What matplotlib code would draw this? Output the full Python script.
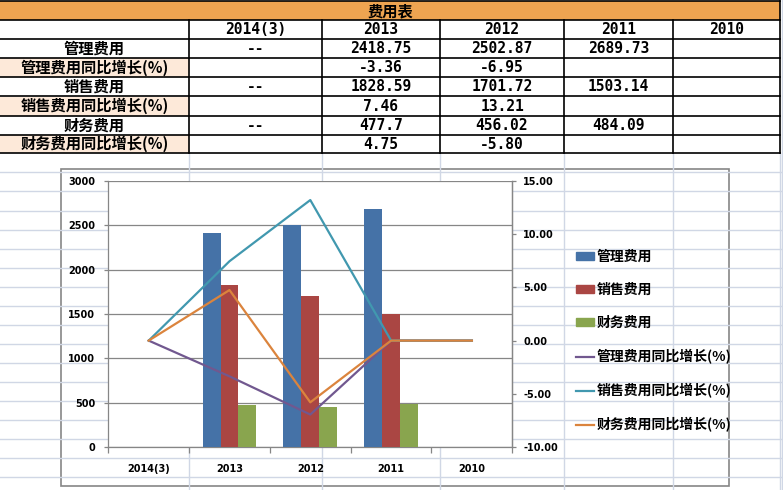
import numpy as np
import matplotlib
matplotlib.use('Agg')
import matplotlib.pyplot as plt
from matplotlib.patches import Rectangle, Patch
from matplotlib.lines import Line2D

# table / chart data
categories = ['2014(3)', '2013', '2012', '2011', '2010']
admin = [0, 2418.75, 2502.87, 2689.73, 0]
sales = [0, 1828.59, 1701.72, 1503.14, 0]
finance = [0, 477.7, 456.02, 484.09, 0]
admin_growth = [0, -3.36, -6.95, 0, 0]
sales_growth = [0, 7.46, 13.21, 0, 0]
finance_growth = [0, 4.75, -5.80, 0, 0]

table_title = '费用表'
row_labels = ['管理费用', '管理费用同比增长(%)', '销售费用', '销售费用同比增长(%)',
              '财务费用', '财务费用同比增长(%)']
table_cells = [
    ['--', '2418.75', '2502.87', '2689.73', ''],
    ['', '-3.36', '-6.95', '', ''],
    ['--', '1828.59', '1701.72', '1503.14', ''],
    ['', '7.46', '13.21', '', ''],
    ['--', '477.7', '456.02', '484.09', ''],
    ['', '4.75', '-5.80', '', ''],
]
series_names = ['管理费用', '销售费用', '财务费用',
                '管理费用同比增长(%)', '销售费用同比增长(%)', '财务费用同比增长(%)']

cjk = ['Noto Sans CJK SC', 'DejaVu Sans']
W, H = 783, 490
fig = plt.figure(figsize=(W / 100, H / 100), dpi=100)

# sheet background in pixel coordinates
bg = fig.add_axes([0, 0, 1, 1])
bg.set_xlim(0, W)
bg.set_ylim(H, 0)
bg.axis('off')

col_x = [0, 189, 322, 440, 564, 673, 780]
row_y = [1, 20, 39.3, 58.3, 77.3, 96.5, 115.7, 134.7, 153.5]

# light sheet grid below the table
grid_c = '#d0d7e5'
y = row_y[-1] + 19
while y < H:
    bg.plot([0, W], [y, y], color=grid_c, lw=1)
    y += 19
for x in col_x[1:]:
    bg.plot([x, x], [row_y[-1], H], color=grid_c, lw=1)
bg.plot([W - 1, W - 1], [0, H], color=grid_c, lw=1)

# title bar
bg.add_patch(Rectangle((0, row_y[0]), col_x[-1], row_y[1] - row_y[0], color='#eea451', lw=0))
# peach fill on growth rows
for i in (1, 3, 5):
    bg.add_patch(Rectangle((0, row_y[i + 2]), col_x[1], row_y[i + 3] - row_y[i + 2],
                           color='#fde9d9', lw=0))
for yy in row_y:
    bg.plot([0, col_x[-1]], [yy, yy], color='black', lw=1.2)
for x in col_x[1:-1]:
    bg.plot([x, x], [row_y[1], row_y[-1]], color='black', lw=1.2)
bg.plot([col_x[-1], col_x[-1]], [row_y[0], row_y[-1]], color='black', lw=1.2)

bg.text(col_x[-1] / 2, (row_y[0] + row_y[1]) / 2 + 0.5, table_title, ha='center', va='center',
        family=cjk, fontsize=11, fontweight='bold')
for j, c in enumerate(categories):
    bg.text((col_x[j + 1] + col_x[j + 2]) / 2, (row_y[1] + row_y[2]) / 2, c, ha='center',
            va='center', family=['DejaVu Sans Mono'], fontsize=10.5, fontweight='bold')
for i, lab in enumerate(row_labels):
    cy = (row_y[i + 2] + row_y[i + 3]) / 2
    bg.text(col_x[1] / 2, cy, lab, ha='center', va='center', family=cjk,
            fontsize=11, fontweight='bold')
    for j, v in enumerate(table_cells[i]):
        bg.text((col_x[j + 1] + col_x[j + 2]) / 2, cy, v, ha='center', va='center',
                family=['DejaVu Sans Mono'], fontsize=10.5, fontweight='bold')

# chart area
bg.add_patch(Rectangle((60.5, 168.5), 668, 317, facecolor='white', edgecolor='#868686', lw=1.2))

axc = '#868686'
left, right, top, bottom = 108.3, 512.3, 181, 447
ax = fig.add_axes([left / W, (H - bottom) / H, (right - left) / W, (bottom - top) / H])
ax.set_facecolor('white')

colors_bar = ['#4572a7', '#aa4643', '#89a54e']
colors_line = ['#71588f', '#4198af', '#db843d']
x = np.arange(len(categories))
bw = 0.222
for k, (vals, col) in enumerate(zip([admin, sales, finance], colors_bar)):
    ax.bar(x + (k - 1) * bw, vals, width=bw, color=col, zorder=3)

ax.set_xlim(-0.5, len(categories) - 0.5)
ax.set_ylim(0, 3000)
ax.set_yticks(np.arange(0, 3001, 500))
ax.yaxis.grid(True, color=axc, lw=0.9, zorder=0)
ax.set_axisbelow(True)
ax.set_xticks(np.arange(-0.5, len(categories), 1.0))
ax.set_xticklabels([])
ax.set_xticks(x, minor=True)
ax.set_xticklabels(categories, minor=True, fontsize=7, fontweight='bold')
ax.tick_params(axis='x', which='major', length=4, width=0.9, color=axc, direction='out')
ax.tick_params(axis='x', which='minor', length=0, pad=12)
ax.tick_params(axis='y', length=3, width=0.9, color=axc, pad=6.5, labelsize=7)
for t in ax.get_yticklabels():
    t.set_fontweight('bold')
for s in ['left', 'bottom', 'right']:
    ax.spines[s].set_color(axc)
    ax.spines[s].set_linewidth(0.9)
ax.spines['top'].set_visible(False)

ax2 = ax.twinx()
for vals, col in zip([admin_growth, sales_growth, finance_growth], colors_line):
    ax2.plot(x, vals, color=col, lw=1.6, zorder=4)
ax2.set_ylim(-10, 15)
ax2.set_yticks(np.arange(-10, 16, 5))
ax2.set_yticklabels(['%.2f' % v for v in np.arange(-10, 16, 5)], fontsize=7, fontweight='bold')
ax2.tick_params(axis='y', length=3, width=0.9, color=axc, pad=5)
for s in ['left', 'bottom', 'top']:
    ax2.spines[s].set_visible(False)
ax2.spines['right'].set_color(axc)
ax2.spines['right'].set_linewidth(0.9)

handles = [Patch(color=c) for c in colors_bar] + [Line2D([], [], color=c, lw=1.6) for c in colors_line]
fig.legend(handles, series_names, loc='upper left', bbox_to_anchor=(576 / W, 1 - 250 / H),
           frameon=False, borderpad=0, borderaxespad=0, handlelength=1.3, handleheight=0.5,
           handletextpad=0.2, labelspacing=1.37, prop={'family': cjk, 'size': 10, 'weight': 'bold'})

fig.savefig('out.png', dpi=100)
